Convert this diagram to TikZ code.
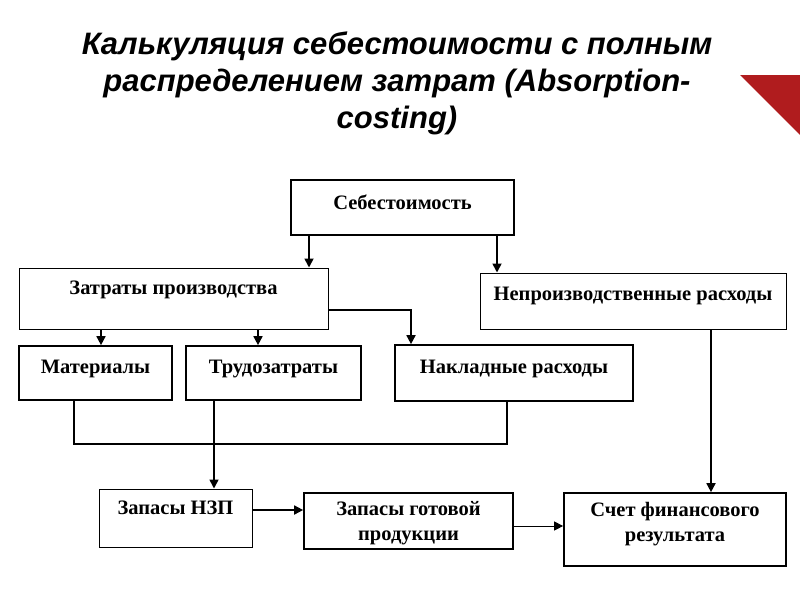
\documentclass[tikz,border=0pt]{standalone}
\usepackage{fontspec}
\setmainfont{Liberation Serif}
\newfontfamily\titlefont{Liberation Sans}
\usetikzlibrary{arrows.meta, calc}
\definecolor{cornerred}{RGB}{176,28,30}

\begin{document}
\begin{tikzpicture}[x=1pt, y=-1pt]
    \tikzset{
        box/.style={draw, line width=1.7pt, font=\fontsize{20.5}{25}\selectfont\bfseries, align=center, inner sep=0pt},
        onebox/.style={box, text height=14pt},
        thinbox/.style={onebox, line width=1pt},
        flow/.style={-{Triangle[length=9pt, width=9pt]}, line width=1.7pt},
        thinflow/.style={flow, line width=0.9pt},
        busline/.style={line width=1.7pt}
    }
    \useasboundingbox (0,0) rectangle (800,600);

    % title and corner mark
    \node[font=\titlefont\fontsize{31}{37}\selectfont\bfseries\itshape, align=center] (title) at (397,83)
        {Калькуляция себестоимости с полным\\распределением затрат (Absorption-\\costing)};
    \fill[cornerred] (740,75) -- (800,75) -- (800,135) -- cycle;

    % boxes
    \node[onebox, minimum width=223pt, minimum height=55pt, text depth=11pt] (seb) at (402.5,207.5) {Себестоимость};
    \node[thinbox, minimum width=309pt, minimum height=61pt, text depth=23pt] (zp) at (173.5,298.5) {Затраты производства};
    \node[thinbox, minimum width=306pt, minimum height=56pt, text depth=16pt] (np) at (633,301) {Непроизводственные расходы};
    \node[onebox, minimum width=153pt, minimum height=54pt, text depth=14pt] (mat) at (95.5,373) {Материалы};
    \node[onebox, minimum width=175pt, minimum height=54pt, text depth=14pt] (trud) at (273.5,373) {Трудозатраты};
    \node[onebox, minimum width=238pt, minimum height=56pt, text depth=14pt] (nakl) at (514,373) {Накладные расходы};
    \node[thinbox, minimum width=153pt, minimum height=58pt, text depth=22pt] (nzp) at (175.5,518) {Запасы НЗП};
    \node[box, minimum width=209pt, minimum height=56pt, text depth=-4pt] (gp) at (408.5,521) {Запасы готовой\\продукции};
    \node[box, minimum width=222pt, minimum height=73pt, text depth=15pt] (sfr) at (675,529.5) {Счет финансового\\результата};

    % connectors
    \draw[flow] ([xshift=-93.5pt]seb.south) -- ([xshift=-93.5pt]seb.south |- zp.north);
    \draw[flow] ([xshift=94.5pt]seb.south) -- ([xshift=94.5pt]seb.south |- np.north);
    \draw[flow] ([xshift=-72.5pt]zp.south) -- ([xshift=-72.5pt]zp.south |- mat.north);
    \draw[flow] ([xshift=84.5pt]zp.south) -- ([xshift=84.5pt]zp.south |- trud.north);
    \draw[flow] ([yshift=-11.5pt]zp.east) -| ([xshift=-103pt]nakl.north);

    \coordinate (bus) at (300,444);
    \draw[busline] ([xshift=-21.5pt]mat.south) |- (bus) -| ([xshift=-7pt]nakl.south);
    \draw[flow] ([xshift=-59.5pt]trud.south) -- ([xshift=-59.5pt]trud.south |- nzp.north);

    \draw[flow] ([yshift=8pt]nzp.east) -- ([yshift=8pt]nzp.east -| gp.west);
    \draw[thinflow] ([yshift=-5pt]gp.east) -- ([yshift=-5pt]gp.east -| sfr.west);
    \draw[flow] ([xshift=78pt]np.south) -- ([xshift=78pt]np.south |- sfr.north);
\end{tikzpicture}
\end{document}
